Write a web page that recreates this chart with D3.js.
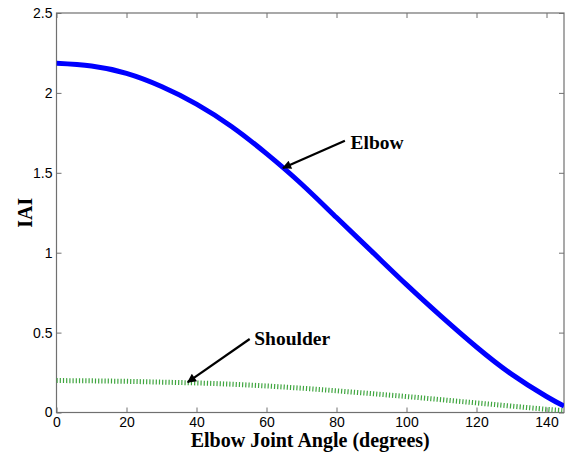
<!DOCTYPE html>
<html>
<head>
<meta charset="utf-8">
<script src="https://cdn.jsdelivr.net/npm/d3@7"></script>
<style>
    body { margin: 0; background: #fff; }
    svg { display: block; }
</style>
</head>
<body>
<svg id="chart" width="566" height="452"></svg>
<script>
// elbow joint angle (degrees)
const angles        = [0, 10, 20, 30, 40, 50, 60, 70, 80, 90, 100, 110, 120, 130, 140, 145];
const elbowIAI      = [2.185, 2.168, 2.122, 2.04, 1.93, 1.79, 1.62, 1.43, 1.22, 1.01, 0.80, 0.60, 0.41, 0.24, 0.10, 0.04];
const shoulderIAI   = [0.20, 0.198, 0.195, 0.19, 0.185, 0.177, 0.166, 0.152, 0.136, 0.118, 0.10, 0.08, 0.06, 0.04, 0.02, 0.012];

const xTicks = [0, 20, 40, 60, 80, 100, 120, 140];
const yTicks = [0, 0.5, 1, 1.5, 2, 2.5];

// annotations: label, text anchor, arrow tail, arrow head (data units)
const notes = [
    { label: 'Elbow',    text: [84.0, 1.65], from: [82.4, 1.70], to: [64.7, 1.53] },
    { label: 'Shoulder', text: [56.5, 0.42], from: [55.2, 0.46], to: [37.5, 0.19] }
];

const margin = { top: 13, right: 2, bottom: 39.5, left: 56.5 };
const width  = 566 - margin.left - margin.right;
const height = 452 - margin.top - margin.bottom;

const svg = d3.select('#chart');

svg.append('defs')
    .append('marker')
    .attr('id', 'arrow')
    .attr('viewBox', '0 0 10 10')
    .attr('refX', 9)
    .attr('refY', 5)
    .attr('markerUnits', 'userSpaceOnUse')
    .attr('markerWidth', 11)
    .attr('markerHeight', 9)
    .attr('orient', 'auto')
    .append('path')
    .attr('d', 'M0,0 L10,5 L0,10 z')
    .attr('fill', '#000');

const g = svg.append('g').attr('transform', `translate(${margin.left},${margin.top})`);

const x = d3.scaleLinear().domain([0, 145]).range([0, width]);
const y = d3.scaleLinear().domain([0, 2.5]).range([height, 0]);

const axisColor = '#707070';

function styleAxis (sel, showLabels) {
    sel.attr('font-size', 14).attr('font-family', 'Arial, "Liberation Sans", sans-serif');
    sel.select('.domain').remove();
    sel.selectAll('.tick line').attr('stroke', axisColor);
    sel.selectAll('.tick text')
        .attr('fill', '#000')
        .style('display', showLabels ? null : 'none');
}

g.append('g')
    .attr('transform', `translate(0,${height})`)
    .call(d3.axisBottom(x).tickValues(xTicks).tickSizeInner(-5).tickSizeOuter(0).tickPadding(5))
    .call(sel => styleAxis(sel, true));

g.append('g')
    .call(d3.axisTop(x).tickValues(xTicks).tickSizeInner(-5).tickSizeOuter(0))
    .call(sel => styleAxis(sel, false));

g.append('g')
    .call(d3.axisLeft(y).tickValues(yTicks).tickFormat(d3.format('~g')).tickSizeInner(-5).tickSizeOuter(0).tickPadding(4))
    .call(sel => styleAxis(sel, true));

g.append('g')
    .attr('transform', `translate(${width},0)`)
    .call(d3.axisRight(y).tickValues(yTicks).tickSizeInner(-5).tickSizeOuter(0))
    .call(sel => styleAxis(sel, false));

g.append('rect')
    .attr('width', width)
    .attr('height', height)
    .attr('fill', 'none')
    .attr('stroke', axisColor)
    .attr('stroke-width', 1.2);

g.append('clipPath')
    .attr('id', 'clip')
    .append('rect')
    .attr('width', width)
    .attr('height', height);

const line = d3.line()
    .x(d => x(d[0]))
    .y(d => y(d[1]))
    .curve(d3.curveNatural);

g.append('path')
    .datum(d3.zip(angles, shoulderIAI))
    .attr('d', line)
    .attr('clip-path', 'url(#clip)')
    .attr('fill', 'none')
    .attr('stroke', '#3fa53f')
    .attr('stroke-width', 5)
    .attr('stroke-dasharray', '1.2,2');

g.append('path')
    .datum(d3.zip(angles, elbowIAI))
    .attr('d', line)
    .attr('clip-path', 'url(#clip)')
    .attr('fill', 'none')
    .attr('stroke', '#0000ff')
    .attr('stroke-width', 5);

const serif = '"Times New Roman", "Liberation Serif", serif';

notes.forEach(n => {
    g.append('line')
        .attr('x1', x(n.from[0]))
        .attr('y1', y(n.from[1]))
        .attr('x2', x(n.to[0]))
        .attr('y2', y(n.to[1]))
        .attr('stroke', '#000')
        .attr('stroke-width', 2.2)
        .attr('marker-end', 'url(#arrow)');

    g.append('text')
        .attr('x', x(n.text[0]))
        .attr('y', y(n.text[1]))
        .style('font-family', serif)
        .style('font-weight', 'bold')
        .style('font-size', '19.5px')
        .text(n.label);
});

svg.append('text')
    .attr('x', margin.left + width / 2)
    .attr('y', 447)
    .attr('text-anchor', 'middle')
    .style('font-family', serif)
    .style('font-weight', 'bold')
    .style('font-size', '20px')
    .text('Elbow Joint Angle (degrees)');

svg.append('text')
    .attr('transform', `translate(32,${margin.top + height / 2}) rotate(-90)`)
    .attr('text-anchor', 'middle')
    .style('font-family', serif)
    .style('font-weight', 'bold')
    .style('font-size', '20px')
    .text('IAI');
</script>
</body>
</html>
